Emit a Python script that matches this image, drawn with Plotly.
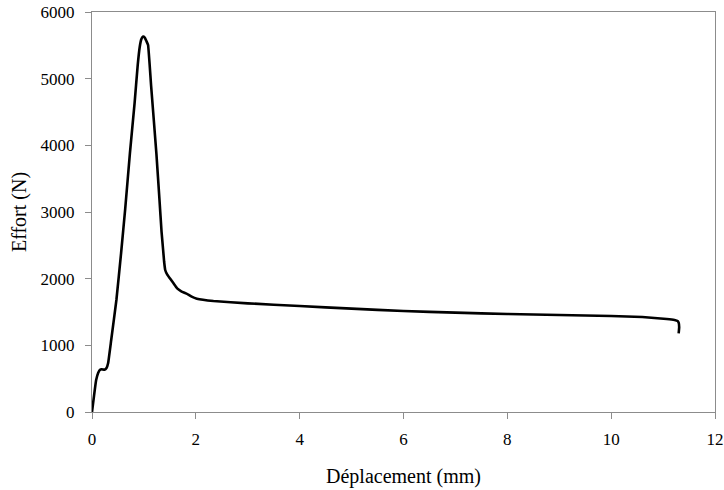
import plotly.graph_objects as go

deplacement = [0.0, 0.04, 0.08, 0.12, 0.15, 0.19, 0.24, 0.28, 0.31, 0.37, 0.47, 0.56, 0.64, 0.73, 0.82, 0.88, 0.92, 0.95, 0.98, 1.0, 1.02, 1.05, 1.08, 1.14, 1.24, 1.30, 1.34, 1.37, 1.39, 1.41, 1.45, 1.50, 1.57, 1.64, 1.72, 1.82, 1.92, 2.02, 2.34, 3.0, 4.0, 5.0, 6.0, 7.0, 8.0, 9.0, 10.0, 10.6, 11.07, 11.22, 11.28, 11.3, 11.31, 11.3]
effort = [0, 250, 480, 590, 630, 640, 635, 660, 730, 1080, 1680, 2380, 3050, 3880, 4630, 5200, 5480, 5590, 5630, 5630, 5610, 5560, 5505, 4880, 3880, 3180, 2700, 2430, 2250, 2130, 2060, 2005, 1930, 1855, 1810, 1775, 1730, 1700, 1665, 1630, 1590, 1550, 1515, 1490, 1470, 1455, 1440, 1425, 1395, 1380, 1365, 1340, 1270, 1180]

x_ticks = [0, 2, 4, 6, 8, 10, 12]
y_ticks = [0, 1000, 2000, 3000, 4000, 5000, 6000]

fig = go.Figure()
fig.add_trace(go.Scatter(x=deplacement, y=effort, mode="lines",
                         line=dict(color="black", width=2.6, shape="spline", smoothing=0.3),
                         showlegend=False))

family = "Liberation Serif, Times New Roman, serif"
tick_font = dict(family=family, size=17, color="black")
title_font = dict(family=family, size=20, color="black")
axis_common = dict(showline=True, mirror=True, linecolor="#8c8c8c", linewidth=1,
                   ticks="outside", ticklen=6, tickcolor="#8c8c8c", tickwidth=1,
                   showgrid=False, zeroline=False, tickfont=tick_font, automargin=False)

fig.update_layout(
    width=724, height=490,
    margin=dict(l=92, r=9, t=12, b=78),
    paper_bgcolor="white", plot_bgcolor="white",
    font=tick_font,
    xaxis=dict(range=[0, 12], tickvals=x_ticks, ticktext=[str(v) for v in x_ticks],
               ticklabelstandoff=6,
               title=dict(text="Déplacement (mm)", font=title_font, standoff=20), **axis_common),
    yaxis=dict(range=[0, 6000], tickvals=y_ticks, ticktext=[str(v) for v in y_ticks],
               ticklabelstandoff=7,
               title=dict(text="Effort (N)", font=title_font, standoff=8), **axis_common),
)

fig.write_html("out.html", config={"displayModeBar": False},
               post_script="document.body.style.margin='0';")
